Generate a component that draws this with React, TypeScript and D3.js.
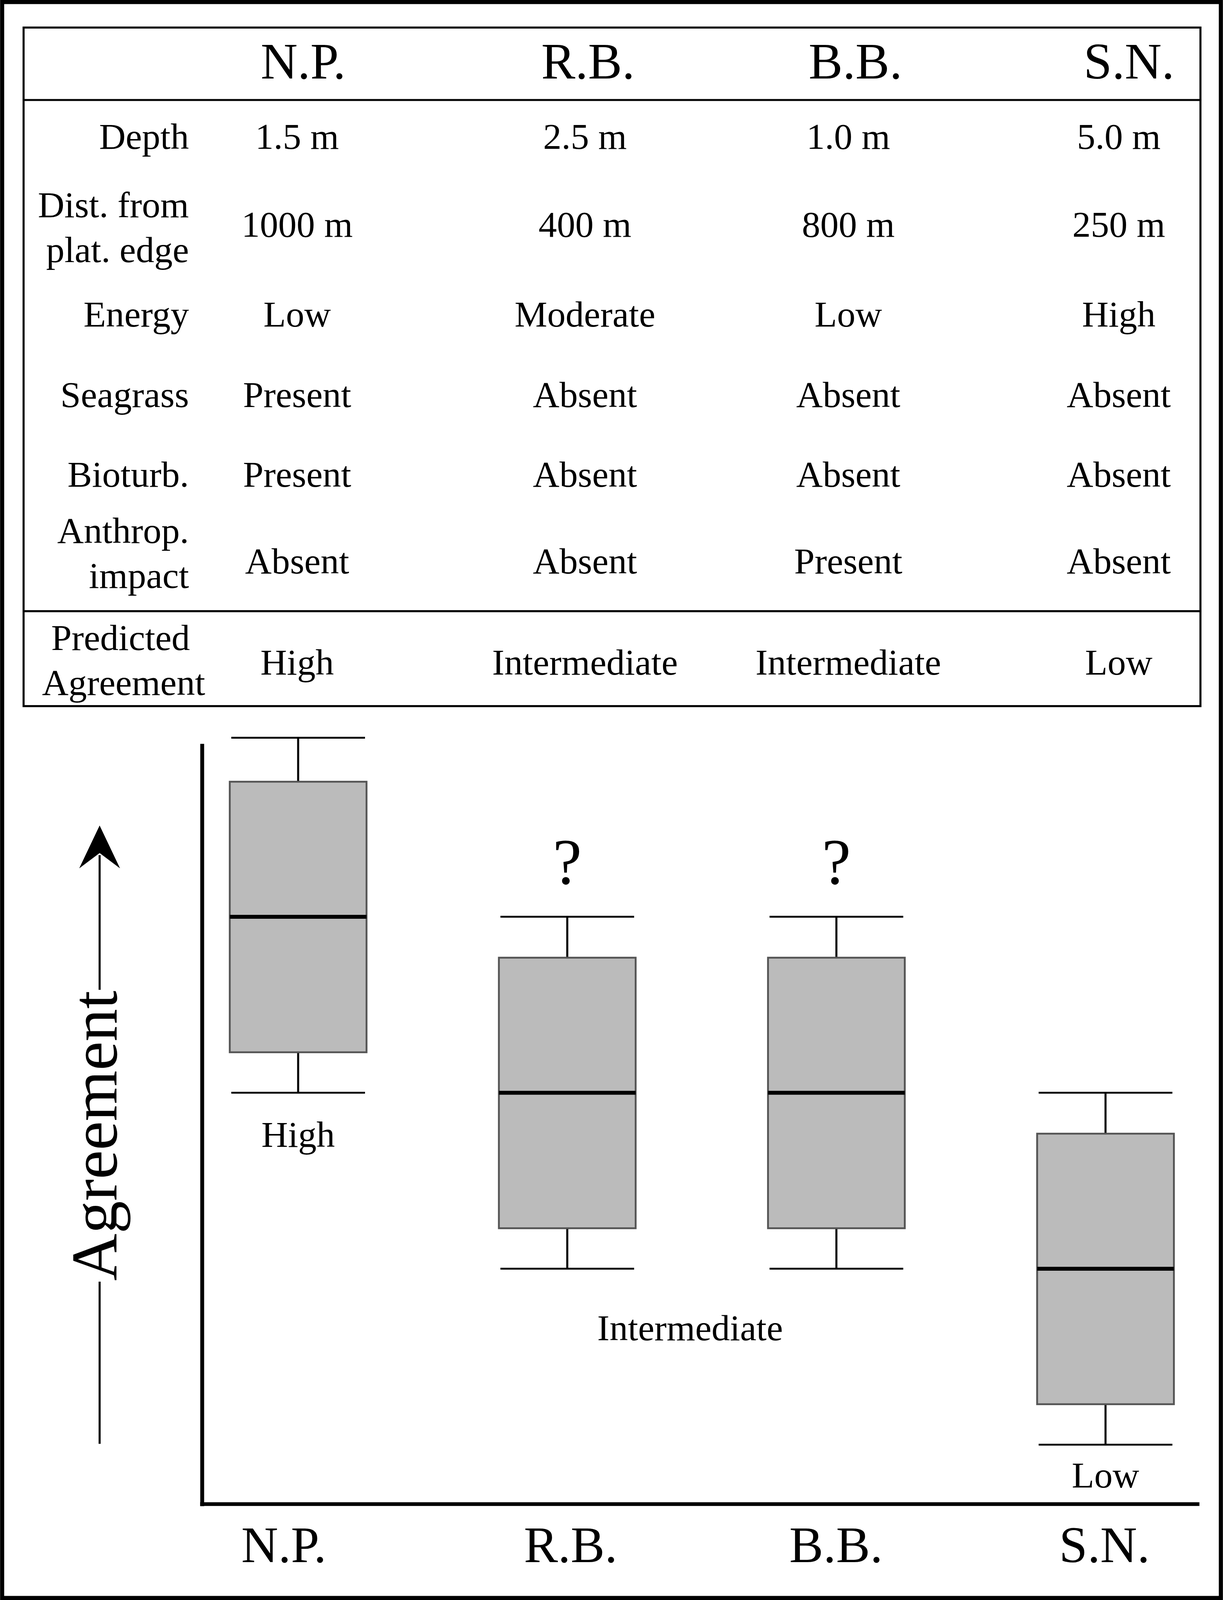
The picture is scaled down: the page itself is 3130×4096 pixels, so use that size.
import React from 'react';
import * as d3 from 'd3';

// sites, table rows and box statistics
const sites = ["N.P.", "R.B.", "B.B.", "S.N."];

const depth = ["1.5 m", "2.5 m", "1.0 m", "5.0 m"];
const distance = ["1000 m", "400 m", "800 m", "250 m"];
const energy = ["Low", "Moderate", "Low", "High"];
const seagrass = ["Present", "Absent", "Absent", "Absent"];
const bioturb = ["Present", "Absent", "Absent", "Absent"];
const anthrop = ["Absent", "Absent", "Present", "Absent"];
const predicted = ["High", "Intermediate", "Intermediate", "Low"];

const rowLabels = [["Depth"], ["Dist. from", "plat. edge"], ["Energy"], ["Seagrass"], ["Bioturb."], ["Anthrop.", "impact"]];
const rowValues = [depth, distance, energy, seagrass, bioturb, anthrop];

// agreement (arbitrary units)
const whiskerLow = [9, 5, 5, 1];
const q1 = [9.92, 5.92, 5.92, 1.92];
const median = [13, 9, 9, 5];
const q3 = [16.07, 12.07, 12.07, 8.07];
const whiskerHigh = [17.07, 13, 13, 9];

const W = 1198;
const H = 1568;
const FONT = "'Liberation Serif', 'Times New Roman', serif";

// table layout
const tableLeft = 23, tableRight = 1176, tableTop = 27, tableBottom = 692;
const headerLine = 98, predLine = 599;
const headerBaseline = 77;
const labelBaselines = [[146], [213, 257], [320], [399], [477], [532, 576]];
const valueBaselines = [146, 232, 320, 399, 477, 562];
const labelRight = 185;

const App: React.FC = () => {
  const colX = d3.scaleOrdinal<string, number>().domain(sites).range([291, 573, 831, 1096]);
  const headX = d3.scaleOrdinal<string, number>().domain(sites).range([297, 576, 838, 1106]);
  const tickX = d3.scaleOrdinal<string, number>().domain(sites).range([278, 559, 819, 1082]);

  // plot
  const x = d3.scalePoint<string>().domain(sites).range([292, 1083]);
  const y = d3.scaleLinear().domain([-0.35, 16.93]).range([1474, 729]);
  const axisLeft = 198, axisRight = 1175;
  const boxW = 134, capW = 131;

  const boxes = sites.map((s, i) => ({
    site: s, lo: whiskerLow[i], q1: q1[i], med: median[i], q3: q3[i], hi: whiskerHigh[i],
  }));

  // arrow beside the y axis
  const arrowX = 97.5;
  const arrowTip = 809, arrowBarb = 851, arrowNotch = 836;
  const arrowPath = d3.path();
  arrowPath.moveTo(arrowX, arrowTip);
  arrowPath.lineTo(arrowX + 20, arrowBarb);
  arrowPath.lineTo(arrowX, arrowNotch);
  arrowPath.lineTo(arrowX - 20, arrowBarb);
  arrowPath.closePath();

  return (
    <svg width={3130} height={4096} viewBox={`0 0 ${W} ${H}`}
      style={{ position: 'absolute', left: 0, top: 0, background: '#fff' }}
      fontFamily={FONT}>
      <rect x={0} y={0} width={W} height={H} fill="#fff" />
      {/* outer frame */}
      <rect x={2} y={2} width={W - 4} height={H - 4} fill="none" stroke="#000" strokeWidth={4} />

      {/* table */}
      <rect x={tableLeft} y={tableTop} width={tableRight - tableLeft} height={tableBottom - tableTop}
        fill="none" stroke="#000" strokeWidth={2} />
      <line x1={tableLeft} x2={tableRight} y1={headerLine} y2={headerLine} stroke="#000" strokeWidth={2} />
      <line x1={tableLeft} x2={tableRight} y1={predLine} y2={predLine} stroke="#000" strokeWidth={2} />

      {sites.map(s => (
        <text key={s} x={headX(s)} y={headerBaseline} textAnchor="middle" fontSize={50}>{s}</text>
      ))}

      {rowLabels.map((lines, r) => (
        <g key={r}>
          {lines.map((t, j) => (
            <text key={j} x={labelRight} y={labelBaselines[r][j]} textAnchor="end" fontSize={36}>{t}</text>
          ))}
          {rowValues[r].map((v, c) => (
            <text key={c} x={colX(sites[c])} y={valueBaselines[r]} textAnchor="middle" fontSize={36}>{v}</text>
          ))}
        </g>
      ))}

      <text x={118} y={637} textAnchor="middle" fontSize={36}>Predicted</text>
      <text x={121} y={681} textAnchor="middle" fontSize={36}>Agreement</text>
      {predicted.map((v, c) => (
        <text key={c} x={colX(sites[c])} y={661} textAnchor="middle" fontSize={36}>{v}</text>
      ))}

      {/* axes */}
      <line x1={axisLeft} x2={axisLeft} y1={y.range()[1]} y2={y.range()[0] + 2} stroke="#000" strokeWidth={3.8} />
      <line x1={axisLeft - 2} x2={axisRight} y1={y.range()[0]} y2={y.range()[0]} stroke="#000" strokeWidth={3.6} />

      {sites.map(s => (
        <text key={s} x={tickX(s)} y={1531} textAnchor="middle" fontSize={50}>{s}</text>
      ))}

      {/* boxes */}
      {boxes.map(b => {
        const cx = x(b.site)!;
        return (
          <g key={b.site}>
            <line x1={cx} x2={cx} y1={y(b.hi)} y2={y(b.q3)} stroke="#000" strokeWidth={2} />
            <line x1={cx} x2={cx} y1={y(b.q1)} y2={y(b.lo)} stroke="#000" strokeWidth={2} />
            <line x1={cx - capW / 2} x2={cx + capW / 2} y1={y(b.hi)} y2={y(b.hi)} stroke="#000" strokeWidth={1.8} />
            <line x1={cx - capW / 2} x2={cx + capW / 2} y1={y(b.lo)} y2={y(b.lo)} stroke="#000" strokeWidth={1.8} />
            <rect x={cx - boxW / 2} y={y(b.q3)} width={boxW} height={y(b.q1) - y(b.q3)}
              fill="#bbbbbb" stroke="#555555" strokeWidth={1.8} />
            <line x1={cx - boxW / 2} x2={cx + boxW / 2} y1={y(b.med)} y2={y(b.med)} stroke="#000" strokeWidth={3.8} />
          </g>
        );
      })}

      {/* annotations */}
      <text x={x("N.P.")} y={y(whiskerLow[0]) + 53} textAnchor="middle" fontSize={36}>High</text>
      <text x={x("R.B.")} y={y(whiskerHigh[1]) - 32} textAnchor="middle" fontSize={64}>?</text>
      <text x={x("B.B.")} y={y(whiskerHigh[2]) - 32} textAnchor="middle" fontSize={64}>?</text>
      <text x={676} y={y(whiskerLow[1]) + 70} textAnchor="middle" fontSize={36}>Intermediate</text>
      <text x={x("S.N.")} y={y(whiskerLow[3]) + 42} textAnchor="middle" fontSize={36}>Low</text>

      {/* agreement arrow */}
      <line x1={arrowX} x2={arrowX} y1={1415} y2={1256} stroke="#000" strokeWidth={2} />
      <line x1={arrowX} x2={arrowX} y1={970} y2={arrowNotch + 2} stroke="#000" strokeWidth={2} />
      <path d={arrowPath.toString()} fill="#000" />
      <text transform={`translate(114,1113) rotate(-90)`} textAnchor="middle" fontSize={64}>Agreement</text>
    </svg>
  );
};

export default App;
